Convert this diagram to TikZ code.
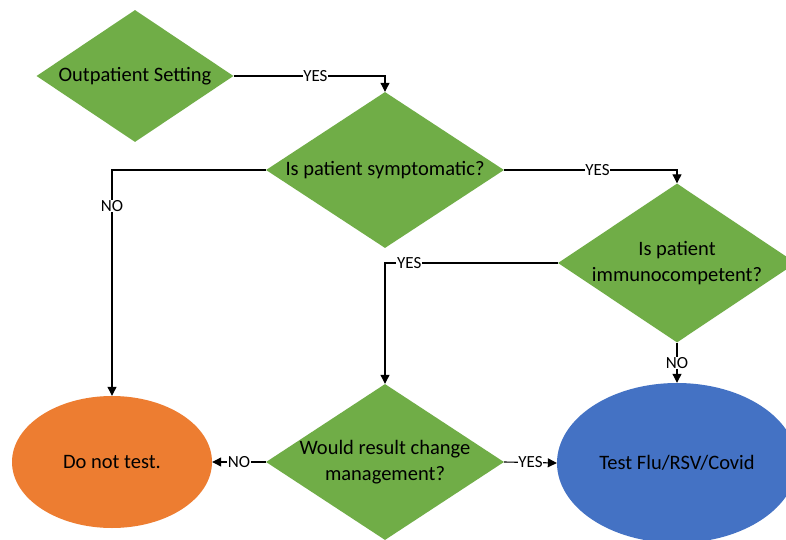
\documentclass[tikz,border=0pt]{standalone}
\usepackage{fontspec}
\setmainfont{Carlito}
\usetikzlibrary{shapes.geometric,arrows.meta}
\definecolor{dgreen}{HTML}{70AD47}
\definecolor{dorange}{HTML}{ED7D31}
\definecolor{dblue}{HTML}{4472C4}
\tikzset{
  x=1pt,y=1pt,
  decision/.style={diamond, fill=dgreen, inner sep=0pt, minimum width=238pt, minimum height=156pt},
  endbox/.style={ellipse, inner sep=0pt, font=\fontsize{20.5}{24}\selectfont},
  maintext/.style={align=center, font=\fontsize{20.5}{26}\selectfont},
  conn/.style={line width=1.1pt, -{Triangle[length=9pt,width=9pt]}},
  lbl/.style={fill=white, inner sep=0.6pt, font=\fontsize{17}{19}\selectfont}
}
\begin{document}
\begin{tikzpicture}
\clip (0,0) rectangle (786,539);
\fill[white] (0,0) rectangle (786,539);
\node[decision, minimum width=197pt, minimum height=132pt,
      label={[maintext]center:Outpatient Setting}] (d1) at (135,463) {};
\node[decision, label={[maintext]center:Is patient symptomatic?}] (d2) at (385,369) {};
\node[decision, minimum height=159pt,
      label={[maintext]center:Is patient\\immunocompetent?}] (d3) at (677,276) {};
\node[decision, label={[maintext]center:Would result change\\management?}] (d4) at (385,77) {};
\node[endbox, fill=dorange, minimum width=200pt, minimum height=132pt] (e1) at (112,77) {Do not test.};
\node[endbox, fill=dblue, minimum width=240pt, minimum height=160pt] (e2) at (677,76) {Test Flu/RSV/Covid};

\draw[conn] (d1.east) -| node[lbl, pos=0.27] {YES} (d2.north);
\draw[conn] (d2.west) -| node[lbl, pos=0.58] {NO} (e1.north);
\draw[conn] (d2.east) -| node[lbl, pos=0.27] {YES} (d3.north);
\draw[conn] (d3.west) -| node[lbl, pos=0.43] {YES} (d4.north);
\draw[conn] (d3.south) -- node[lbl] {NO} (e2.north);
\draw[conn] (d4.west) -- node[lbl] {NO} (e1.east);
\draw[conn] (d4.east) -- node[lbl] {YES} (e2.west);
\end{tikzpicture}
\end{document}
